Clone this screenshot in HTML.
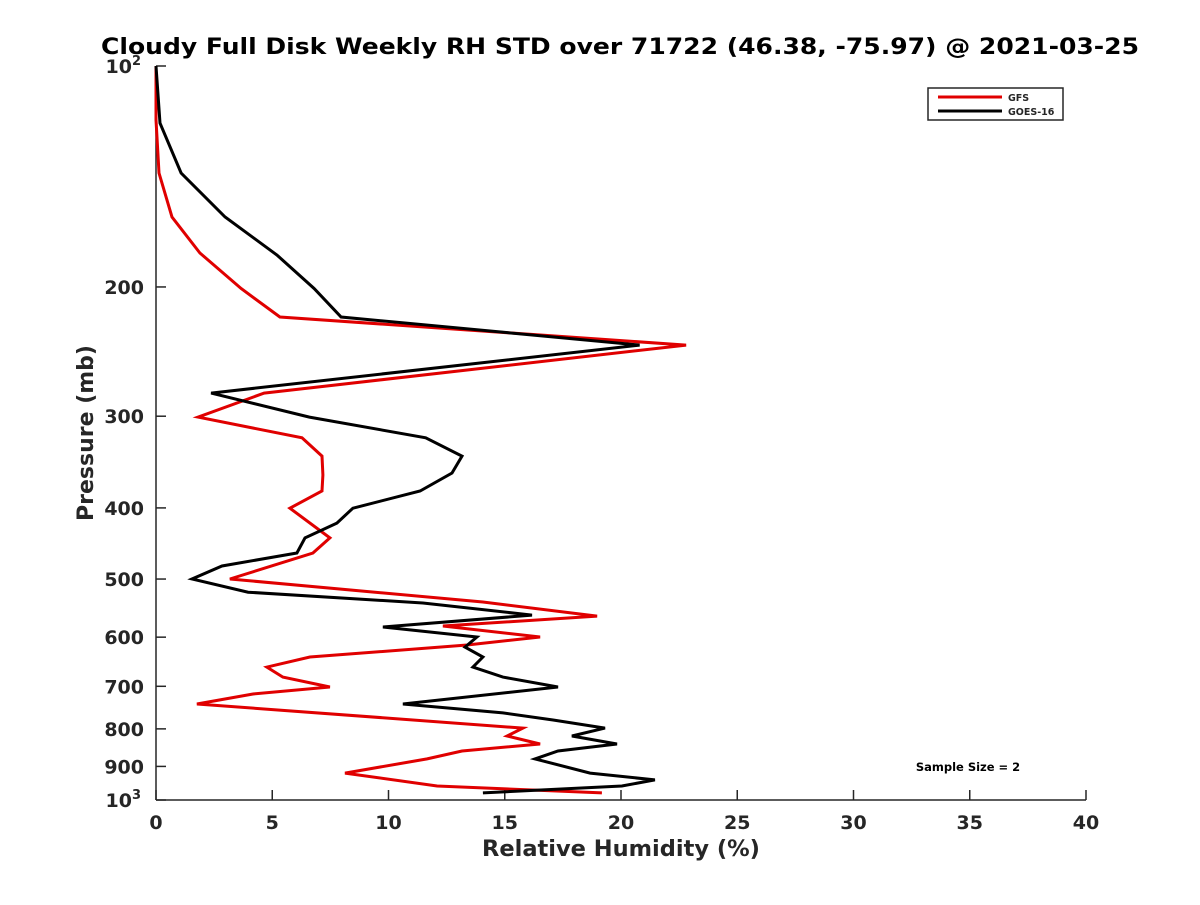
<!DOCTYPE html>
<html><head><meta charset="utf-8"><style>
body{margin:0;background:#fff}
svg text{font-family:"DejaVu Sans","Liberation Sans",sans-serif;font-weight:bold;fill:#262626}
</style></head><body>
<svg width="1200" height="900" viewBox="0 0 1200 900" xmlns="http://www.w3.org/2000/svg">
<rect width="1200" height="900" fill="#fff"/>
<text x="620" y="54" text-anchor="middle" font-size="22" textLength="1038" lengthAdjust="spacingAndGlyphs" style="fill:#000">Cloudy Full Disk Weekly RH STD over 71722 (46.38, -75.97) @ 2021-03-25</text>
<g id="axes"></g>
<g id="series"></g>
<text x="621" y="856" text-anchor="middle" font-size="22.5">Relative Humidity (%)</text>
<text transform="translate(93,433) rotate(-90)" text-anchor="middle" font-size="22">Pressure (mb)</text>
<g>
<rect x="928" y="88" width="135" height="32" fill="#fff" stroke="#262626" stroke-width="1.5"/>
<line x1="938" y1="97" x2="1002" y2="97" stroke="#e00000" stroke-width="3"/>
<text x="1008" y="101" font-size="9.5">GFS</text>
<line x1="938" y1="111" x2="1002" y2="111" stroke="#000" stroke-width="3"/>
<text x="1008" y="115" font-size="9.5">GOES-16</text>
</g>
<text x="968" y="771" text-anchor="middle" font-size="11.5" style="fill:#000">Sample Size = 2</text>
</svg>
<script>
const xTicks=[0,5,10,15,20,25,30,35,40];
const yTicks=[100,200,300,400,500,600,700,800,900,1000];
const yTickLabels=['10^2','200','300','400','500','600','700','800','900','10^3'];
const goesP=[100,119.6,139.9,160.6,180.9,201,219.8,240,279,300.8,321,340,358.5,379.3,400.3,419.5,439.5,460.8,480,500,521,539,559.8,581.2,599.7,619,638.6,659,680,701.5,740,761,778,798,818,839,857.5,879,919,939,957,978];
const goesRH=[0,0.17,1.08,2.97,5.2,6.8,7.96,20.8,2.37,6.6,11.6,13.16,12.73,11.36,8.47,7.78,6.41,6.06,2.84,1.55,3.96,11.48,16.17,9.76,13.8,13.29,14.06,13.63,14.92,17.29,10.62,14.92,17.08,19.31,17.89,19.83,17.29,16.3,18.67,21.46,20.04,14.06];
const gfsP=[100,118.4,139.9,160.6,179.8,201,219.8,240,279,300.8,321,340,360.8,379.3,400.3,439.5,460.8,500,537.4,561.6,579.4,599.7,615,638.6,659,680,701.5,717,740,798,818,839,857.5,879,919,957,978];
const gfsRH=[0,0,0.13,0.69,1.89,3.66,5.33,22.8,4.65,1.81,6.28,7.14,7.18,7.14,5.76,7.48,6.75,3.18,14.06,18.97,12.34,16.52,13.38,6.62,4.77,5.46,7.48,4.17,1.76,15.78,15.1,16.52,13.16,11.66,8.13,12.09,19.18];
const X0=156,X1=1086,Y0=66,Y1=800;
const xs=v=>X0+(v-0)/(40-0)*(X1-X0);
const ys=p=>Y0+Math.log10(p/100)*(Y1-Y0);
const NS='http://www.w3.org/2000/svg';
const ax=document.getElementById('axes'),se=document.getElementById('series');
function mk(tag,parent,attrs){const e=document.createElementNS(NS,tag);for(const k in attrs)e.setAttribute(k,attrs[k]);parent.appendChild(e);return e;}
let l=mk('line',ax,{x1:X0,y1:Y0,x2:X0,y2:Y1,stroke:'#262626','stroke-width':1.5});


l=mk('line',ax,{x1:X0,y1:Y1,x2:X1,y2:Y1,stroke:'#262626','stroke-width':1.5});


xTicks.forEach(v=>{
 const t=mk('line',ax,{x1:xs(v),y1:Y1,x2:xs(v),y2:Y1-10,stroke:'#262626','stroke-width':1.5});
 
 
 const tx=mk('text',ax,{x:xs(v),y:Y1+29,'text-anchor':'middle','font-size':19});
 tx.textContent=v;
 
 
});
yTicks.forEach((p,i)=>{
 const t=mk('line',ax,{x1:X0,y1:ys(p),x2:X0+10,y2:ys(p),stroke:'#262626','stroke-width':1.5});
 
 
 const lab=yTickLabels[i];
 if(lab.indexOf('^')>=0){
  const parts=lab.split('^');
  const tx=mk('text',ax,{x:X0-24,y:ys(p)+7,'text-anchor':'end','font-size':19});
  tx.textContent=parts[0];
  
  
  const sup=mk('text',ax,{x:X0-24,y:ys(p)-1,'text-anchor':'start','font-size':13});
  sup.textContent=parts[1];
  
  
 } else {
  const tx=mk('text',ax,{x:X0-12,y:ys(p)+7,'text-anchor':'end','font-size':19});
  tx.textContent=lab;
  
  
 }
});
function line(P,R,color,name){
 const pts=P.map((p,i)=>xs(R[i]).toFixed(1)+','+ys(p).toFixed(1)).join(' ');
 const e=mk('polyline',se,{points:pts,fill:'none',stroke:color,'stroke-width':3,'stroke-linejoin':'miter'});
 
 
}
line(gfsP,gfsRH,'#e00000','gfs-line');
line(goesP,goesRH,'#000','goes16-line');
</script>
</body></html>
